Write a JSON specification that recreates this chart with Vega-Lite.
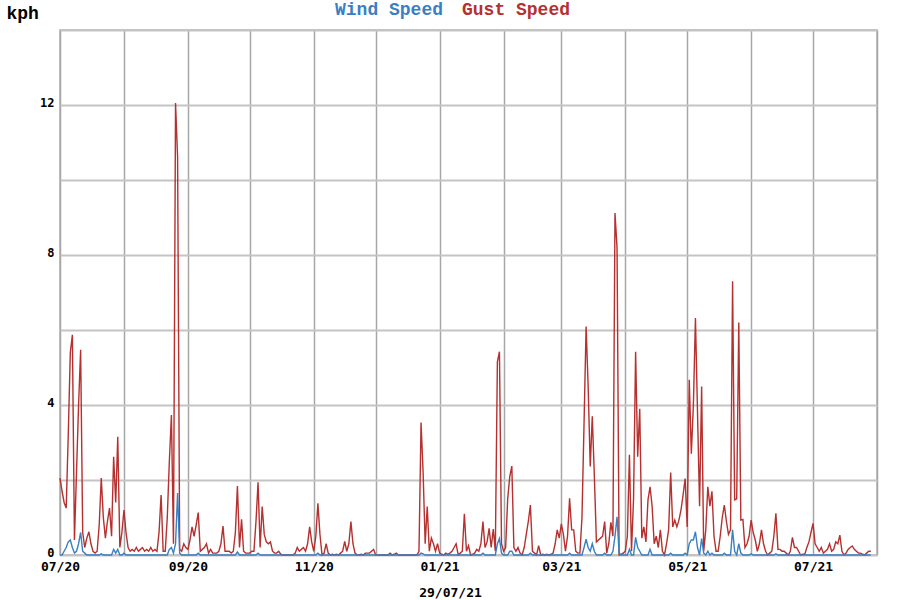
{
"$schema": "https://vega.github.io/schema/vega-lite/v6.json",
"width": 817, "height": 525,
"autosize": {"type": "none"},
"padding": {"left": 60, "top": 30, "right": 23, "bottom": 45},
"background": "white",
"config": {"view": {"stroke": "#b0b0b0", "strokeWidth": 1.5}},
"data": {"values": [
{"date":"2020-07-01","gust":2.05,"wind":0},{"date":"2020-07-02","gust":1.7,"wind":0},{"date":"2020-07-03","gust":1.4,"wind":0.1},{"date":"2020-07-04","gust":1.25,"wind":0.2},{"date":"2020-07-05","gust":3.2,"wind":0.35},{"date":"2020-07-06","gust":5.4,"wind":0.4},{"date":"2020-07-07","gust":5.87,"wind":0.2},{"date":"2020-07-08","gust":0.4,"wind":0.05},{"date":"2020-07-09","gust":2.2,"wind":0.1},{"date":"2020-07-10","gust":4.0,"wind":0.3},{"date":"2020-07-11","gust":5.47,"wind":0.6},{"date":"2020-07-12","gust":0.6,"wind":0.1},{"date":"2020-07-13","gust":0.2,"wind":0.05},{"date":"2020-07-14","gust":0.45,"wind":0},{"date":"2020-07-15","gust":0.62,"wind":0},{"date":"2020-07-16","gust":0.3,"wind":0},{"date":"2020-07-17","gust":0.1,"wind":0},{"date":"2020-07-18","gust":0.05,"wind":0},{"date":"2020-07-19","gust":0.1,"wind":0},{"date":"2020-07-20","gust":0.8,"wind":0},{"date":"2020-07-21","gust":2.05,"wind":0.03},{"date":"2020-07-22","gust":1.0,"wind":0},{"date":"2020-07-23","gust":0.45,"wind":0},{"date":"2020-07-24","gust":0.9,"wind":0},{"date":"2020-07-25","gust":1.25,"wind":0},{"date":"2020-07-26","gust":0.5,"wind":0},{"date":"2020-07-27","gust":2.62,"wind":0.15},{"date":"2020-07-28","gust":1.4,"wind":0.05},{"date":"2020-07-29","gust":3.15,"wind":0.15},{"date":"2020-07-30","gust":0.2,"wind":0},{"date":"2020-07-31","gust":0.6,"wind":0},
{"date":"2020-08-01","gust":1.2,"wind":0.05},{"date":"2020-08-02","gust":0.6,"wind":0},{"date":"2020-08-03","gust":0.2,"wind":0},{"date":"2020-08-04","gust":0.1,"wind":0},{"date":"2020-08-05","gust":0.15,"wind":0},{"date":"2020-08-06","gust":0.1,"wind":0},{"date":"2020-08-07","gust":0.2,"wind":0},{"date":"2020-08-08","gust":0.1,"wind":0},{"date":"2020-08-09","gust":0.15,"wind":0},{"date":"2020-08-10","gust":0.2,"wind":0},{"date":"2020-08-11","gust":0.1,"wind":0},{"date":"2020-08-12","gust":0.15,"wind":0},{"date":"2020-08-13","gust":0.1,"wind":0},{"date":"2020-08-14","gust":0.2,"wind":0},{"date":"2020-08-15","gust":0.1,"wind":0},{"date":"2020-08-16","gust":0.15,"wind":0},{"date":"2020-08-17","gust":0.1,"wind":0},{"date":"2020-08-18","gust":0.6,"wind":0},{"date":"2020-08-19","gust":1.6,"wind":0},{"date":"2020-08-20","gust":0.1,"wind":0},{"date":"2020-08-21","gust":0.1,"wind":0},{"date":"2020-08-22","gust":1.0,"wind":0},{"date":"2020-08-23","gust":2.5,"wind":0.15},{"date":"2020-08-24","gust":3.73,"wind":0.2},{"date":"2020-08-25","gust":0.3,"wind":0.05},{"date":"2020-08-26","gust":12.05,"wind":0.3},{"date":"2020-08-27","gust":10.6,"wind":1.65},{"date":"2020-08-28","gust":0.15,"wind":0.05},{"date":"2020-08-29","gust":0.1,"wind":0},{"date":"2020-08-30","gust":0.3,"wind":0},{"date":"2020-08-31","gust":0.2,"wind":0},
{"date":"2020-09-01","gust":0.15,"wind":0},{"date":"2020-09-02","gust":0.4,"wind":0},{"date":"2020-09-03","gust":0.75,"wind":0},{"date":"2020-09-04","gust":0.5,"wind":0},{"date":"2020-09-05","gust":0.8,"wind":0},{"date":"2020-09-06","gust":1.13,"wind":0.05},{"date":"2020-09-07","gust":0.1,"wind":0},{"date":"2020-09-08","gust":0.15,"wind":0},{"date":"2020-09-09","gust":0.2,"wind":0},{"date":"2020-09-10","gust":0.3,"wind":0},{"date":"2020-09-11","gust":0.05,"wind":0},{"date":"2020-09-12","gust":0.15,"wind":0},{"date":"2020-09-13","gust":0.05,"wind":0},{"date":"2020-09-14","gust":0.05,"wind":0},{"date":"2020-09-15","gust":0.05,"wind":0},{"date":"2020-09-16","gust":0.1,"wind":0},{"date":"2020-09-17","gust":0.3,"wind":0},{"date":"2020-09-18","gust":0.77,"wind":0},{"date":"2020-09-19","gust":0.1,"wind":0},{"date":"2020-09-20","gust":0.1,"wind":0},{"date":"2020-09-21","gust":0.1,"wind":0},{"date":"2020-09-22","gust":0.05,"wind":0},{"date":"2020-09-23","gust":0.1,"wind":0},{"date":"2020-09-24","gust":0.6,"wind":0},{"date":"2020-09-25","gust":1.84,"wind":0.08},{"date":"2020-09-26","gust":0.2,"wind":0},{"date":"2020-09-27","gust":0.95,"wind":0},{"date":"2020-09-28","gust":0.1,"wind":0},{"date":"2020-09-29","gust":0.05,"wind":0},{"date":"2020-09-30","gust":0.05,"wind":0},
{"date":"2020-10-01","gust":0.05,"wind":0},{"date":"2020-10-02","gust":0.1,"wind":0},{"date":"2020-10-03","gust":0.1,"wind":0},{"date":"2020-10-04","gust":0.9,"wind":0},{"date":"2020-10-05","gust":1.94,"wind":0.05},{"date":"2020-10-06","gust":0.2,"wind":0},{"date":"2020-10-07","gust":1.29,"wind":0},{"date":"2020-10-08","gust":0.55,"wind":0},{"date":"2020-10-09","gust":0.35,"wind":0},{"date":"2020-10-10","gust":0.3,"wind":0},{"date":"2020-10-11","gust":0.35,"wind":0},{"date":"2020-10-12","gust":0.1,"wind":0},{"date":"2020-10-13","gust":0.05,"wind":0},{"date":"2020-10-14","gust":0.05,"wind":0},{"date":"2020-10-15","gust":0.1,"wind":0},{"date":"2020-10-16","gust":0.02,"wind":0},{"date":"2020-10-17","gust":0,"wind":0},{"date":"2020-10-18","gust":0,"wind":0},{"date":"2020-10-19","gust":0,"wind":0},{"date":"2020-10-20","gust":0,"wind":0},{"date":"2020-10-21","gust":0,"wind":0},{"date":"2020-10-22","gust":0,"wind":0},{"date":"2020-10-23","gust":0.05,"wind":0},{"date":"2020-10-24","gust":0.2,"wind":0},{"date":"2020-10-25","gust":0.1,"wind":0},{"date":"2020-10-26","gust":0.15,"wind":0},{"date":"2020-10-27","gust":0.2,"wind":0},{"date":"2020-10-28","gust":0.1,"wind":0},{"date":"2020-10-29","gust":0.3,"wind":0},{"date":"2020-10-30","gust":0.75,"wind":0},{"date":"2020-10-31","gust":0.35,"wind":0},
{"date":"2020-11-01","gust":0.1,"wind":0},{"date":"2020-11-02","gust":0.5,"wind":0},{"date":"2020-11-03","gust":1.38,"wind":0.05},{"date":"2020-11-04","gust":0.55,"wind":0},{"date":"2020-11-05","gust":0,"wind":0},{"date":"2020-11-06","gust":0.05,"wind":0},{"date":"2020-11-07","gust":0.3,"wind":0},{"date":"2020-11-08","gust":0.05,"wind":0},{"date":"2020-11-09","gust":0,"wind":0},{"date":"2020-11-10","gust":0.02,"wind":0},{"date":"2020-11-11","gust":0,"wind":0},{"date":"2020-11-12","gust":0.02,"wind":0},{"date":"2020-11-13","gust":0,"wind":0},{"date":"2020-11-14","gust":0.05,"wind":0},{"date":"2020-11-15","gust":0.1,"wind":0},{"date":"2020-11-16","gust":0.36,"wind":0},{"date":"2020-11-17","gust":0.1,"wind":0},{"date":"2020-11-18","gust":0.3,"wind":0},{"date":"2020-11-19","gust":0.89,"wind":0},{"date":"2020-11-20","gust":0.3,"wind":0},{"date":"2020-11-21","gust":0.05,"wind":0},{"date":"2020-11-22","gust":0,"wind":0},{"date":"2020-11-23","gust":0,"wind":0},{"date":"2020-11-24","gust":0.02,"wind":0},{"date":"2020-11-25","gust":0,"wind":0},{"date":"2020-11-26","gust":0.05,"wind":0},{"date":"2020-11-27","gust":0.05,"wind":0},{"date":"2020-11-28","gust":0.05,"wind":0},{"date":"2020-11-29","gust":0.1,"wind":0},{"date":"2020-11-30","gust":0.15,"wind":0},
{"date":"2020-12-01","gust":0,"wind":0},{"date":"2020-12-02","gust":0,"wind":0},{"date":"2020-12-03","gust":0,"wind":0},{"date":"2020-12-04","gust":0,"wind":0},{"date":"2020-12-05","gust":0,"wind":0},{"date":"2020-12-06","gust":0,"wind":0},{"date":"2020-12-07","gust":0,"wind":0},{"date":"2020-12-08","gust":0.05,"wind":0},{"date":"2020-12-09","gust":0,"wind":0},{"date":"2020-12-10","gust":0.02,"wind":0},{"date":"2020-12-11","gust":0.05,"wind":0},{"date":"2020-12-12","gust":0,"wind":0},{"date":"2020-12-13","gust":0,"wind":0},{"date":"2020-12-14","gust":0,"wind":0},{"date":"2020-12-15","gust":0,"wind":0},{"date":"2020-12-16","gust":0,"wind":0},{"date":"2020-12-17","gust":0,"wind":0},{"date":"2020-12-18","gust":0,"wind":0},{"date":"2020-12-19","gust":0,"wind":0},{"date":"2020-12-20","gust":0,"wind":0},{"date":"2020-12-21","gust":0,"wind":0},{"date":"2020-12-22","gust":0.1,"wind":0},{"date":"2020-12-23","gust":3.53,"wind":0.05},{"date":"2020-12-24","gust":2.2,"wind":0.03},{"date":"2020-12-25","gust":0.3,"wind":0},{"date":"2020-12-26","gust":1.29,"wind":0},{"date":"2020-12-27","gust":0.1,"wind":0},{"date":"2020-12-28","gust":0.45,"wind":0},{"date":"2020-12-29","gust":0.3,"wind":0},{"date":"2020-12-30","gust":0.1,"wind":0},{"date":"2020-12-31","gust":0.3,"wind":0},
{"date":"2021-01-01","gust":0.05,"wind":0},{"date":"2021-01-02","gust":0.02,"wind":0},{"date":"2021-01-03","gust":0,"wind":0},{"date":"2021-01-04","gust":0.05,"wind":0},{"date":"2021-01-05","gust":0.02,"wind":0},{"date":"2021-01-06","gust":0.05,"wind":0},{"date":"2021-01-07","gust":0.1,"wind":0},{"date":"2021-01-08","gust":0.2,"wind":0},{"date":"2021-01-09","gust":0.3,"wind":0},{"date":"2021-01-10","gust":0,"wind":0},{"date":"2021-01-11","gust":0.05,"wind":0},{"date":"2021-01-12","gust":0.1,"wind":0},{"date":"2021-01-13","gust":1.1,"wind":0},{"date":"2021-01-14","gust":0.1,"wind":0},{"date":"2021-01-15","gust":0.25,"wind":0},{"date":"2021-01-16","gust":0,"wind":0},{"date":"2021-01-17","gust":0.02,"wind":0},{"date":"2021-01-18","gust":0.05,"wind":0},{"date":"2021-01-19","gust":0.15,"wind":0},{"date":"2021-01-20","gust":0.1,"wind":0},{"date":"2021-01-21","gust":0.3,"wind":0},{"date":"2021-01-22","gust":0.89,"wind":0.05},{"date":"2021-01-23","gust":0.2,"wind":0},{"date":"2021-01-24","gust":0.35,"wind":0},{"date":"2021-01-25","gust":0.71,"wind":0},{"date":"2021-01-26","gust":0.2,"wind":0},{"date":"2021-01-27","gust":0.69,"wind":0},{"date":"2021-01-28","gust":0.1,"wind":0},{"date":"2021-01-29","gust":5.15,"wind":0.3},{"date":"2021-01-30","gust":5.42,"wind":0.44},{"date":"2021-01-31","gust":0.3,"wind":0.05},
{"date":"2021-02-01","gust":0.1,"wind":0},{"date":"2021-02-02","gust":0.2,"wind":0},{"date":"2021-02-03","gust":1.5,"wind":0},{"date":"2021-02-04","gust":2.09,"wind":0.1},{"date":"2021-02-05","gust":2.37,"wind":0.1},{"date":"2021-02-06","gust":0.2,"wind":0},{"date":"2021-02-07","gust":0.1,"wind":0},{"date":"2021-02-08","gust":0.2,"wind":0},{"date":"2021-02-09","gust":0.05,"wind":0},{"date":"2021-02-10","gust":0,"wind":0},{"date":"2021-02-11","gust":0.2,"wind":0},{"date":"2021-02-12","gust":0.55,"wind":0},{"date":"2021-02-13","gust":0.9,"wind":0},{"date":"2021-02-14","gust":1.33,"wind":0.05},{"date":"2021-02-15","gust":0.1,"wind":0},{"date":"2021-02-16","gust":0.05,"wind":0},{"date":"2021-02-17","gust":0,"wind":0},{"date":"2021-02-18","gust":0.25,"wind":0},{"date":"2021-02-19","gust":0,"wind":0},{"date":"2021-02-20","gust":0.02,"wind":0},{"date":"2021-02-21","gust":0,"wind":0},{"date":"2021-02-22","gust":0.02,"wind":0},{"date":"2021-02-23","gust":0,"wind":0},{"date":"2021-02-24","gust":0.02,"wind":0},{"date":"2021-02-25","gust":0.05,"wind":0},{"date":"2021-02-26","gust":0.3,"wind":0},{"date":"2021-02-27","gust":0.67,"wind":0},{"date":"2021-02-28","gust":0.45,"wind":0},
{"date":"2021-03-01","gust":0.83,"wind":0},{"date":"2021-03-02","gust":0.55,"wind":0},{"date":"2021-03-03","gust":0.1,"wind":0},{"date":"2021-03-04","gust":0.5,"wind":0},{"date":"2021-03-05","gust":1.51,"wind":0.05},{"date":"2021-03-06","gust":0.67,"wind":0},{"date":"2021-03-07","gust":0.67,"wind":0},{"date":"2021-03-08","gust":0.1,"wind":0},{"date":"2021-03-09","gust":0.05,"wind":0},{"date":"2021-03-10","gust":0.05,"wind":0},{"date":"2021-03-11","gust":1.0,"wind":0},{"date":"2021-03-12","gust":3.5,"wind":0.2},{"date":"2021-03-13","gust":6.09,"wind":0.42},{"date":"2021-03-14","gust":4.49,"wind":0.2},{"date":"2021-03-15","gust":2.36,"wind":0.1},{"date":"2021-03-16","gust":3.7,"wind":0.3},{"date":"2021-03-17","gust":2.1,"wind":0.1},{"date":"2021-03-18","gust":0.35,"wind":0},{"date":"2021-03-19","gust":0.4,"wind":0},{"date":"2021-03-20","gust":0.45,"wind":0},{"date":"2021-03-21","gust":0.5,"wind":0},{"date":"2021-03-22","gust":0.89,"wind":0.05},{"date":"2021-03-23","gust":0.05,"wind":0},{"date":"2021-03-24","gust":0.3,"wind":0},{"date":"2021-03-25","gust":0.87,"wind":0},{"date":"2021-03-26","gust":0.5,"wind":0.1},{"date":"2021-03-27","gust":9.12,"wind":0.5},{"date":"2021-03-28","gust":8.19,"wind":1.02},{"date":"2021-03-29","gust":0,"wind":0.05},{"date":"2021-03-30","gust":0.02,"wind":0},{"date":"2021-03-31","gust":0.05,"wind":0},
{"date":"2021-04-01","gust":0.1,"wind":0},{"date":"2021-04-02","gust":0.5,"wind":0},{"date":"2021-04-03","gust":2.67,"wind":0.15},{"date":"2021-04-04","gust":0.1,"wind":0},{"date":"2021-04-05","gust":1.5,"wind":0},{"date":"2021-04-06","gust":5.42,"wind":0.47},{"date":"2021-04-07","gust":2.62,"wind":0.2},{"date":"2021-04-08","gust":3.9,"wind":0.1},{"date":"2021-04-09","gust":0.45,"wind":0},{"date":"2021-04-10","gust":0.75,"wind":0},{"date":"2021-04-11","gust":0.35,"wind":0},{"date":"2021-04-12","gust":1.47,"wind":0},{"date":"2021-04-13","gust":1.82,"wind":0.15},{"date":"2021-04-14","gust":1.3,"wind":0},{"date":"2021-04-15","gust":0.3,"wind":0},{"date":"2021-04-16","gust":0.5,"wind":0},{"date":"2021-04-17","gust":0.2,"wind":0},{"date":"2021-04-18","gust":0.67,"wind":0},{"date":"2021-04-19","gust":0.1,"wind":0},{"date":"2021-04-20","gust":0,"wind":0},{"date":"2021-04-21","gust":0.3,"wind":0},{"date":"2021-04-22","gust":0.67,"wind":0},{"date":"2021-04-23","gust":2.2,"wind":0.05},{"date":"2021-04-24","gust":0.75,"wind":0},{"date":"2021-04-25","gust":0.93,"wind":0},{"date":"2021-04-26","gust":0.75,"wind":0},{"date":"2021-04-27","gust":0.93,"wind":0},{"date":"2021-04-28","gust":1.2,"wind":0},{"date":"2021-04-29","gust":1.6,"wind":0},{"date":"2021-04-30","gust":2.04,"wind":0.05},
{"date":"2021-05-01","gust":0.75,"wind":0},{"date":"2021-05-02","gust":4.67,"wind":0.3},{"date":"2021-05-03","gust":2.7,"wind":0.4},{"date":"2021-05-04","gust":4.0,"wind":0.4},{"date":"2021-05-05","gust":6.32,"wind":0.62},{"date":"2021-05-06","gust":3.8,"wind":0.2},{"date":"2021-05-07","gust":1.3,"wind":0},{"date":"2021-05-08","gust":4.49,"wind":0.44},{"date":"2021-05-09","gust":0.1,"wind":0.05},{"date":"2021-05-10","gust":0.67,"wind":0},{"date":"2021-05-11","gust":1.82,"wind":0.1},{"date":"2021-05-12","gust":1.3,"wind":0},{"date":"2021-05-13","gust":1.7,"wind":0.05},{"date":"2021-05-14","gust":0.5,"wind":0},{"date":"2021-05-15","gust":0.1,"wind":0},{"date":"2021-05-16","gust":0.1,"wind":0},{"date":"2021-05-17","gust":0.5,"wind":0},{"date":"2021-05-18","gust":1.0,"wind":0},{"date":"2021-05-19","gust":1.33,"wind":0.05},{"date":"2021-05-20","gust":0.9,"wind":0},{"date":"2021-05-21","gust":0.55,"wind":0},{"date":"2021-05-22","gust":0.67,"wind":0},{"date":"2021-05-23","gust":7.3,"wind":0.67},{"date":"2021-05-24","gust":1.47,"wind":0.1},{"date":"2021-05-25","gust":1.5,"wind":0},{"date":"2021-05-26","gust":6.2,"wind":0.3},{"date":"2021-05-27","gust":0.93,"wind":0.05},{"date":"2021-05-28","gust":0.95,"wind":0},{"date":"2021-05-29","gust":0.2,"wind":0},{"date":"2021-05-30","gust":0.3,"wind":0},{"date":"2021-05-31","gust":0.5,"wind":0},
{"date":"2021-06-01","gust":0.93,"wind":0.03},{"date":"2021-06-02","gust":0.6,"wind":0},{"date":"2021-06-03","gust":0.4,"wind":0},{"date":"2021-06-04","gust":0.1,"wind":0},{"date":"2021-06-05","gust":0.3,"wind":0},{"date":"2021-06-06","gust":0.67,"wind":0},{"date":"2021-06-07","gust":0.3,"wind":0},{"date":"2021-06-08","gust":0.1,"wind":0},{"date":"2021-06-09","gust":0,"wind":0},{"date":"2021-06-10","gust":0.05,"wind":0},{"date":"2021-06-11","gust":0.1,"wind":0},{"date":"2021-06-12","gust":0.5,"wind":0},{"date":"2021-06-13","gust":1.11,"wind":0.03},{"date":"2021-06-14","gust":0.15,"wind":0},{"date":"2021-06-15","gust":0.15,"wind":0},{"date":"2021-06-16","gust":0.1,"wind":0},{"date":"2021-06-17","gust":0.1,"wind":0},{"date":"2021-06-18","gust":0.05,"wind":0},{"date":"2021-06-19","gust":0,"wind":0},{"date":"2021-06-20","gust":0.1,"wind":0},{"date":"2021-06-21","gust":0.47,"wind":0},{"date":"2021-06-22","gust":0.2,"wind":0},{"date":"2021-06-23","gust":0.2,"wind":0},{"date":"2021-06-24","gust":0.1,"wind":0},{"date":"2021-06-25","gust":0,"wind":0},{"date":"2021-06-26","gust":0.02,"wind":0},{"date":"2021-06-27","gust":0.02,"wind":0},{"date":"2021-06-28","gust":0.2,"wind":0},{"date":"2021-06-29","gust":0.35,"wind":0},{"date":"2021-06-30","gust":0.6,"wind":0},
{"date":"2021-07-01","gust":0.84,"wind":0},{"date":"2021-07-02","gust":0.3,"wind":0},{"date":"2021-07-03","gust":0.2,"wind":0},{"date":"2021-07-04","gust":0.1,"wind":0},{"date":"2021-07-05","gust":0.2,"wind":0},{"date":"2021-07-06","gust":0.05,"wind":0},{"date":"2021-07-07","gust":0.1,"wind":0},{"date":"2021-07-08","gust":0.15,"wind":0},{"date":"2021-07-09","gust":0.3,"wind":0},{"date":"2021-07-10","gust":0.1,"wind":0},{"date":"2021-07-11","gust":0.15,"wind":0},{"date":"2021-07-12","gust":0.35,"wind":0},{"date":"2021-07-13","gust":0.3,"wind":0},{"date":"2021-07-14","gust":0.53,"wind":0},{"date":"2021-07-15","gust":0.1,"wind":0},{"date":"2021-07-16","gust":0,"wind":0},{"date":"2021-07-17","gust":0.05,"wind":0},{"date":"2021-07-18","gust":0.15,"wind":0},{"date":"2021-07-19","gust":0.2,"wind":0},{"date":"2021-07-20","gust":0.24,"wind":0},{"date":"2021-07-21","gust":0.15,"wind":0},{"date":"2021-07-22","gust":0.1,"wind":0},{"date":"2021-07-23","gust":0.05,"wind":0},{"date":"2021-07-24","gust":0.05,"wind":0},{"date":"2021-07-25","gust":0.02,"wind":0},{"date":"2021-07-26","gust":0,"wind":0},{"date":"2021-07-27","gust":0.05,"wind":0},{"date":"2021-07-28","gust":0.1,"wind":0},{"date":"2021-07-29","gust":0.1,"wind":0}
]},
"encoding": {
  "x": {"field": "date", "type": "temporal",
    "scale": {"type": "utc", "domain": [{"year":2020,"month":7,"date":1,"utc":true},{"year":2021,"month":8,"date":1,"utc":true}]},
    "axis": {
      "values": [{"year":2020,"month":7,"date":1,"utc":true},{"year":2020,"month":8,"date":1,"utc":true},{"year":2020,"month":9,"date":1,"utc":true},{"year":2020,"month":10,"date":1,"utc":true},{"year":2020,"month":11,"date":1,"utc":true},{"year":2020,"month":12,"date":1,"utc":true},{"year":2021,"month":1,"date":1,"utc":true},{"year":2021,"month":2,"date":1,"utc":true},{"year":2021,"month":3,"date":1,"utc":true},{"year":2021,"month":4,"date":1,"utc":true},{"year":2021,"month":5,"date":1,"utc":true},{"year":2021,"month":6,"date":1,"utc":true},{"year":2021,"month":7,"date":1,"utc":true},{"year":2021,"month":8,"date":1,"utc":true}],
      "labelExpr": "utcmonth(datum.value) % 2 == 0 ? utcFormat(datum.value, '%m/%y') : ''",
      "labelFlush": false, "labelOverlap": false,
      "labelFont": "DejaVu Sans Mono", "labelFontSize": 13, "labelFontWeight": "bold", "labelColor": "#000000", "labelPadding": 5,
      "ticks": false, "domain": false,
      "grid": true, "gridColor": "#a6a6a6", "gridWidth": 1.5,
      "title": "29/07/21", "titleFont": "DejaVu Sans Mono", "titleFontSize": 13, "titleFontWeight": "bold", "titleColor": "#000000",
      "titleX": 390, "titleY": 41, "titleAlign": "center", "titleBaseline": "alphabetic", "titleAnchor": null
    }
  }
},
"layer": [
  {"mark": {"type": "line", "strokeWidth": 1.4},
   "encoding": {
     "y": {"field": "gust", "type": "quantitative",
       "scale": {"domain": [0, 14], "nice": false, "zero": true},
       "axis": {
         "values": [0,2,4,6,8,10,12,14],
         "labelExpr": "(datum.value % 4 == 0 && datum.value < 14) ? datum.label : ''",
         "labelFont": "DejaVu Sans Mono", "labelFontSize": 12, "labelFontWeight": "bold", "labelColor": "#000000", "labelPadding": 6, "labelOffset": -3,
         "ticks": false, "domain": false,
         "grid": true, "gridColor": "#c4c4c4", "gridWidth": 2,
         "title": "kph", "titleAngle": 0, "titleAlign": "left", "titleBaseline": "alphabetic",
         "titleX": -54, "titleY": -12, "titleFont": "Liberation Mono", "titleFontSize": 18, "titleFontWeight": "bold", "titleColor": "#000000"
       }},
     "color": {"datum": "Gust Speed",
       "scale": {"domain": ["Wind Speed", "Gust Speed"], "range": ["#3a7fc1", "#b5302f"]},
       "legend": {"orient": "none", "legendX": 257, "legendY": -29, "direction": "horizontal", "title": null,
         "symbolSize": 0, "symbolStrokeWidth": 0, "symbolOpacity": 0, "labelOffset": 0, "columnPadding": -12, "padding": 0,
         "labelFont": "Liberation Mono", "labelFontSize": 18, "labelFontWeight": "bold", "labelLimit": 0,
         "encode": {"labels": {"update": {"fill": {"signal": "datum.value === 'Wind Speed' ? '#3a7fc1' : '#b5302f'"}}}}}
     }
   }},
  {"mark": {"type": "line", "strokeWidth": 1.4},
   "encoding": {
     "y": {"field": "wind", "type": "quantitative"},
     "color": {"datum": "Wind Speed"}
   }}
]
}
